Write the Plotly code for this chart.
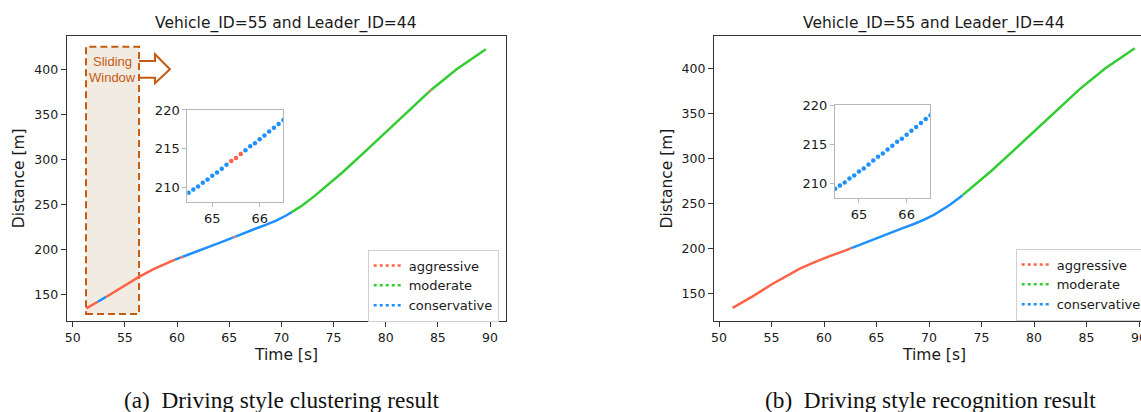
import plotly.graph_objects as go

W, H = 1141, 412

# ---------------- data ----------------
time_s = [51.3, 52.4, 53.2, 55.0, 56.35, 57.7, 59.0, 59.8, 60.3, 60.55, 62.0, 62.6, 63.5,
          64.5, 65.4, 65.6, 66.5, 67.5, 68.5, 69.5, 70.5, 71.0, 72.0, 73.2, 74.5, 75.9,
          78.2, 80.3, 82.0, 84.2, 84.35, 86.8, 89.6]
distance_m = [134.7, 142.0, 147.3, 160.5, 169.5, 178.0, 184.8, 188.7, 190.8, 191.9, 198.0,
              200.8, 205.0, 209.3, 213.4, 214.3, 218.7, 223.0, 227.3, 232.0, 238.0, 241.5,
              248.8, 259.5, 272.5, 286.0, 310.5, 333.5, 352.0, 375.5, 377.0, 400.0, 422.3]

# style of each interval between consecutive samples
clustering_style = [
    "aggressive", "conservative", "aggressive", "aggressive", "aggressive", "aggressive",
    "aggressive", "conservative", "aggressive", "conservative", "conservative", "conservative",
    "conservative", "conservative", "aggressive", "conservative", "conservative", "conservative",
    "conservative", "conservative", "conservative", "moderate", "moderate", "moderate",
    "moderate", "moderate", "moderate", "moderate", "moderate", "aggressive", "moderate",
    "moderate"]
recognition_style = [
    "aggressive", "aggressive", "aggressive", "aggressive", "aggressive", "aggressive",
    "aggressive", "aggressive", "aggressive", "aggressive", "aggressive", "conservative",
    "conservative", "conservative", "conservative", "conservative", "conservative",
    "conservative", "conservative", "conservative", "conservative", "conservative",
    "conservative", "moderate", "moderate", "moderate", "moderate", "moderate", "moderate",
    "moderate", "moderate", "moderate"]

# zoomed samples shown in the insets
inset_time = [64.5, 64.6, 64.7, 64.8, 64.9, 65.0, 65.1, 65.2, 65.3, 65.4, 65.5, 65.6, 65.7,
              65.8, 65.9, 66.0, 66.1, 66.2, 66.3, 66.4, 66.5]
inset_distance = [209.3, 209.7, 210.1, 210.6, 211.0, 211.5, 211.9, 212.4, 212.9, 213.4, 213.8,
                  214.3, 214.8, 215.3, 215.7, 216.2, 216.7, 217.2, 217.7, 218.2, 218.7]
inset_clustering = ["conservative"] * 9 + ["aggressive", "aggressive", "aggressive"] + ["conservative"] * 9
inset_recognition = ["conservative"] * 21

styles = ["aggressive", "moderate", "conservative"]
style_colors = {"aggressive": "#FF6347", "moderate": "#32CD32", "conservative": "#1E90FF"}

x_ticks = [50, 55, 60, 65, 70, 75, 80, 85, 90]
y_ticks = [150, 200, 250, 300, 350, 400]
inset_x_ticks = [65, 66]
inset_y_ticks = [210, 215, 220]

title_text = "Vehicle_ID=55 and Leader_ID=44"
captions = ["(a)\u2002Driving style clustering result", "(b)\u2002Driving style recognition result"]


def px(x):
    return x / W


def py(y):
    return 1 - y / H


fig = go.Figure()


def add_segments(labels, xa, ya):
    start = 0
    for i in range(1, len(labels) + 1):
        if i == len(labels) or labels[i] != labels[start]:
            fig.add_trace(go.Scatter(
                x=time_s[start:i + 1], y=distance_m[start:i + 1], mode="lines",
                line=dict(color=style_colors[labels[start]], width=2.5),
                xaxis=xa, yaxis=ya, showlegend=False, hoverinfo="skip"))
            start = i


add_segments(clustering_style, "x", "y")
add_segments(recognition_style, "x2", "y2")

for labels, xa, ya in [(inset_clustering, "x3", "y3"), (inset_recognition, "x4", "y4")]:
    for s in styles:
        xs = [t for t, l in zip(inset_time, labels) if l == s]
        ys = [d for d, l in zip(inset_distance, labels) if l == s]
        if xs:
            fig.add_trace(go.Scatter(x=xs, y=ys, mode="markers",
                                     marker=dict(color=style_colors[s], size=4.5),
                                     xaxis=xa, yaxis=ya, showlegend=False, hoverinfo="skip"))

for leg, xa, ya in [("legend", "x", "y"), ("legend2", "x2", "y2")]:
    for s in styles:
        fig.add_trace(go.Scatter(x=[None], y=[None], mode="lines", name=s,
                                 line=dict(color=style_colors[s], width=2.5, dash="dot"),
                                 xaxis=xa, yaxis=ya, legend=leg))

tick_font = dict(family="DejaVu Sans", size=12.5, color="#1a1a1a")
inset_font = dict(family="DejaVu Sans", size=13, color="#1a1a1a")


def main_axis(domain, rng, anchor, ticks, mirror):
    return dict(domain=domain, range=rng, anchor=anchor, showline=True, linecolor="#333",
                linewidth=1.2, mirror=mirror, ticks="outside", ticklen=5, tickwidth=1.1,
                tickcolor="#333", tickvals=ticks, showgrid=False, zeroline=False,
                tickfont=tick_font, ticklabeloverflow="allow", fixedrange=True)


def inset_axis(domain, rng, anchor, ticks):
    return dict(domain=domain, range=rng, anchor=anchor, showline=True, linecolor="#b8b8b8",
                linewidth=1, mirror=True, ticks="outside", ticklen=4, tickwidth=1,
                tickcolor="#b8b8b8", tickvals=ticks, showgrid=False, zeroline=False,
                tickfont=inset_font, fixedrange=True)


legend_common = dict(xanchor="left", yanchor="top", bgcolor="white", bordercolor="#d0d0d0",
                     borderwidth=1, font=dict(family="DejaVu Sans", size=13, color="#1a1a1a"),
                     itemwidth=30, tracegroupgap=0)

fig.update_layout(
    width=W, height=H, margin=dict(l=0, r=0, t=0, b=0, autoexpand=False),
    paper_bgcolor="white", plot_bgcolor="white",
    xaxis=main_axis([px(66.7), px(505.7)], [49.425, 91.505], "y", x_ticks, True),
    yaxis=main_axis([py(321), py(36)], [120.6, 437.0], "x", y_ticks, True),
    xaxis2=main_axis([px(714), 1.0], [49.524, 90.19], "y2", x_ticks, True),
    yaxis2=main_axis([py(320.7), py(36)], [120.4, 435.8], "x2", y_ticks, False),
    xaxis3=inset_axis([px(187.3), px(283.3)], [64.473, 66.498], "y3", inset_x_ticks),
    yaxis3=inset_axis([py(202.3), py(109.5)], [208.06, 220.06], "x3", inset_y_ticks),
    xaxis4=inset_axis([px(835), px(930)], [64.497, 66.49], "y4", inset_x_ticks),
    yaxis4=inset_axis([py(198.3), py(105)], [208.08, 220.0], "x4", inset_y_ticks),
    legend=dict(x=px(367.7), y=py(249.5), **legend_common),
    legend2=dict(x=px(1015.7), y=py(248.5), **legend_common),
)

# sliding window (left panel)
win_color = "#C55A11"
fig.add_shape(type="rect", xref="x", yref="y", x0=51.275, x1=56.36, y0=128.4, y1=425.1,
              fillcolor="#F2EBE2", line=dict(color=win_color, width=2, dash="7px,4px"),
              layer="below")
fig.add_shape(type="path", xref="x", yref="y",
              path="M 56.36,409.2 L 57.89,409.2 L 57.89,416.7 L 59.32,400 L 57.89,384.5 "
                   "L 57.89,390.7 L 56.36,390.7",
              line=dict(color=win_color, width=2), fillcolor="rgba(0,0,0,0)")
for txt, yv in [("Sliding", 408.4), ("Window", 390.7)]:
    fig.add_annotation(x=53.8, y=yv, xref="x", yref="y", text=txt, showarrow=False,
                       font=dict(family="Liberation Sans", size=13, color=win_color),
                       xanchor="center", yanchor="middle")

# titles, axis labels and captions
label_font = dict(family="DejaVu Sans", size=15.5, color="#1a1a1a")
for cx, ylab_x in [(286.2, 18.8), (933.7, 666)]:
    fig.add_annotation(x=px(cx), y=py(23.5), xref="paper", yref="paper", text=title_text,
                       showarrow=False, font=label_font, xanchor="center", yanchor="middle")
    fig.add_annotation(x=px(cx), y=py(355), xref="paper", yref="paper", text="Time [s]",
                       showarrow=False, font=label_font, xanchor="center", yanchor="middle")
    fig.add_annotation(x=px(ylab_x), y=py(178.5), xref="paper", yref="paper",
                       text="Distance [m]", showarrow=False, font=label_font, textangle=-90,
                       xanchor="center", yanchor="middle")

for cap, cx in zip(captions, [282.4, 930.9]):
    fig.add_annotation(x=px(cx), y=py(399.5), xref="paper", yref="paper", text=cap,
                       showarrow=False,
                       font=dict(family="Liberation Serif", size=23.3, color="#111"),
                       xanchor="center", yanchor="middle")

fig.write_html("out.html")
